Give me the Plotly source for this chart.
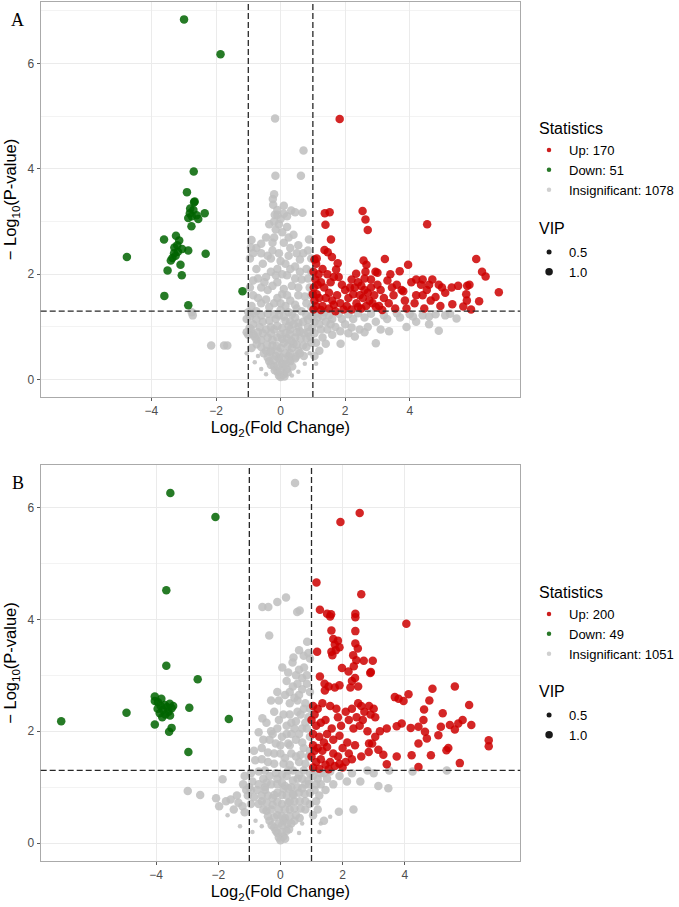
import math
import plotly.graph_objects as go

# ---------------- data ----------------
# Panel A
A_up = [
    [1.83,4.95],[1.37,3.16],[1.52,3.18],[1.39,2.94],[1.56,2.66],[1.36,2.46],[1.46,2.42],[1.59,2.33],
    [1.05,2.28],[1.10,2.20],[1.02,2.05],[1.08,1.90],[1.03,1.75],[1.12,1.62],[1.05,1.50],[1.10,1.40],
    [1.02,1.33],[1.15,1.80],[1.18,2.00],[1.12,2.30],[1.30,2.10],[1.45,2.00],[1.55,1.85],[1.35,1.75],
    [1.50,1.65],[1.40,1.55],[1.60,1.50],[1.30,1.40],[1.50,1.35],[1.65,1.42],[1.77,2.21],[1.72,2.09],
    [1.80,1.95],[1.90,1.80],[2.00,1.70],[1.75,1.60],[2.10,1.55],[1.85,1.45],[2.05,1.40],[1.95,1.33],
    [2.20,1.90],[2.15,1.75],[2.54,3.20],[2.63,3.04],[2.70,2.84],[2.57,2.26],[2.66,2.18],[2.34,2.01],
    [2.63,2.05],[2.94,2.05],[3.00,2.03],[2.40,1.85],[2.50,1.78],[2.60,1.70],[2.70,1.65],[2.80,1.75],
    [2.90,1.60],[2.45,1.60],[2.55,1.55],[2.75,1.50],[2.85,1.45],[2.65,1.40],[2.95,1.38],[2.35,1.45],
    [2.50,1.35],[3.00,1.80],[2.80,1.90],[3.23,2.29],[3.31,1.88],[3.40,2.00],[3.10,1.70],[3.20,1.55],
    [3.35,1.45],[3.50,1.60],[3.60,1.80],[3.69,2.06],[3.75,1.70],[3.85,1.50],[3.95,2.18],[3.90,1.35],
    [3.55,1.35],[3.05,1.40],[3.15,1.32],[4.54,2.95],[4.20,1.90],[4.40,1.90],[4.05,1.85],[4.35,1.80],
    [4.53,1.70],[4.60,1.80],[4.70,1.90],[4.40,1.60],[4.20,1.60],[4.80,1.57],[4.90,1.80],[4.15,1.45],
    [4.65,1.50],[4.95,1.40],[4.45,1.35],[5.00,1.75],[5.10,1.65],[5.30,1.75],[5.50,1.78],[5.78,1.78],
    [5.85,1.80],[5.75,1.62],[5.32,1.43],[5.77,1.50],[6.06,2.29],[6.24,2.05],[6.35,1.96],[5.90,1.33],
    [6.15,1.49],[5.66,1.39],[6.76,1.66],[3.80,1.68],[2.25,1.62],[2.40,1.38],[1.25,1.85],[1.20,1.55],
    [1.25,1.32],[1.70,1.30],[2.30,1.75],[2.60,1.92],[3.45,1.75],[1.65,1.95],[1.00,1.62],[2.20,1.33],
]
A_down = [
    [-2.99,6.84],[-1.86,6.18],[-2.69,3.95],[-2.90,3.56],[-2.68,3.37],[-2.66,3.38],[-2.81,3.16],
    [-2.35,3.16],[-2.76,2.91],[-2.86,3.07],[-2.75,3.10],[-2.70,3.22],[-2.60,3.12],[-2.55,3.05],
    [-2.80,3.25],[-3.61,2.66],[-3.24,2.73],[-3.14,2.64],[-3.29,2.51],[-3.18,2.43],[-2.86,2.45],
    [-3.35,2.31],[-3.40,2.26],[-2.32,2.39],[-4.76,2.33],[-3.50,2.07],[-3.10,2.18],[-3.06,1.98],
    [-3.60,1.59],[-2.86,1.41],[-1.18,1.68],[-3.30,2.40],[-3.20,2.55],[-3.05,2.48],[-3.25,2.35],
]
A_ns = [
    [0.00,0.05],[0.10,0.10],[-0.10,0.15],[0.20,0.20],[-0.20,0.25],[0.05,0.30],[-0.35,0.35],[0.30,0.35],
    [0.45,0.40],[-0.15,0.45],[0.15,0.50],[-0.45,0.55],[0.55,0.55],[0.35,0.60],[-0.25,0.65],[0.00,0.60],
    [0.70,0.65],[-0.60,0.75],[-0.40,0.80],[-0.10,0.80],[0.20,0.78],[0.45,0.80],[0.80,0.78],[0.95,0.70],
    [-0.70,0.90],[0.60,0.92],[0.30,0.95],[0.05,0.98],[-0.30,1.00],[0.85,1.00],[-0.85,1.05],[-0.55,1.10],
    [0.70,1.10],[0.15,1.12],[-0.15,1.15],[0.45,1.18],[0.95,1.20],[-0.95,1.20],[-0.40,1.25],[0.25,1.28],
    [0.65,1.30],[-0.75,1.30],[0.00,1.32],[0.10,0.25],[-0.05,0.40],[0.25,0.45],[0.40,0.68],[-0.30,0.55],
    [0.10,0.70],[0.55,1.00],[-0.20,0.95],[0.85,0.90],[0.40,1.05],[-0.45,0.95],[0.15,0.88],[-0.05,1.22],
    [-0.05,0.08],[0.12,0.06],[-0.18,0.18],[0.00,0.17],[0.22,0.14],[-0.30,0.28],[-0.08,0.27],[0.15,0.30],
    [0.36,0.25],[-0.40,0.42],[-0.20,0.38],[0.02,0.42],[0.25,0.38],[0.48,0.44],[-0.52,0.50],[-0.30,0.52],
    [-0.08,0.54],[0.30,0.50],[0.60,0.50],[0.72,0.45],[-0.60,0.62],[-0.42,0.66],[-0.12,0.64],[0.22,0.64],
    [0.50,0.66],[0.80,0.62],[-0.75,0.76],[-0.25,0.75],[0.05,0.77],[0.33,0.74],[0.62,0.78],[0.92,0.82],
    [-0.85,0.86],[-0.55,0.88],[-0.30,0.88],[0.00,0.86],[0.28,0.86],[0.50,0.90],[0.72,0.88],[-0.65,1.00],
    [-0.10,1.02],[0.25,1.02],[0.98,0.98],[-0.92,0.95],[-0.75,1.14],[-0.35,1.12],[0.30,1.10],[0.55,1.08],
    [0.85,1.14],[-0.60,1.22],[-0.20,1.24],[0.10,1.20],[0.35,1.24],[0.80,1.22],[-0.85,1.26],
    [-0.60,1.45],[-0.20,1.45],[0.30,1.50],[0.80,1.45],[0.55,1.60],[-0.85,1.60],[0.05,1.62],[-0.40,1.70],
    [0.90,1.75],[0.35,1.78],[-0.10,1.85],[0.65,1.90],[-0.70,1.92],[0.20,1.98],[-0.30,2.05],[0.80,2.10],
    [0.45,2.15],[-0.55,2.20],[0.00,2.25],[-0.95,2.30],[0.25,2.35],[0.70,2.40],[-0.25,2.45],[-0.75,2.50],
    [0.55,2.55],[0.10,2.60],[-0.90,2.65],[-0.45,2.70],[0.40,2.75],[-0.60,2.58],[0.95,2.30],[-0.15,2.85],
    [0.20,2.90],[-0.35,2.95],[0.60,2.28],[0.88,2.66],[-0.92,2.51],[-0.10,2.10],[0.15,1.40],[-0.45,1.95],
    [0.50,1.35],[-0.90,1.40],[-0.35,1.38],[0.00,1.45],[0.45,1.42],[0.95,1.38],[-0.70,1.55],[-0.45,1.52],
    [-0.10,1.55],[0.20,1.60],[0.75,1.58],[-0.95,1.75],[-0.60,1.75],[0.10,1.72],[0.55,1.75],[0.95,1.60],
    [-0.25,1.78],[-0.85,1.88],[-0.50,1.85],[0.45,1.92],[0.85,1.92],[-0.15,1.98],[0.60,2.05],[-0.75,2.10],
    [0.30,2.10],[0.95,2.05],[-0.40,2.35],[0.15,2.20],[-0.60,2.40],[0.85,2.45],[-0.85,2.40],[0.50,2.40],
    [-0.05,2.40],[0.05,2.80],[-0.20,2.70],[0.25,2.70],[-0.25,2.60],
    [-0.20,3.00],[0.00,3.05],[0.33,3.21],[0.45,3.18],[0.68,3.17],[-0.18,3.13],[-0.10,3.13],
    [-0.24,3.43],[-0.23,3.32],[-0.20,3.52],[-0.16,3.87],[0.63,3.87],[0.71,4.35],[-0.17,4.96],[0.10,3.30],
    [0.20,3.10],[-0.05,2.95],[0.30,2.50],[-0.30,2.30],[0.05,2.00],[-0.10,3.22],[0.10,3.15],
    [1.10,1.25],[1.30,1.20],[1.50,1.22],[1.80,1.25],[2.10,1.24],[2.40,1.26],[2.80,1.25],[3.20,1.22],
    [3.60,1.26],[4.00,1.24],[4.40,1.22],[4.80,1.24],[5.10,1.22],[5.45,1.16],[1.20,1.05],[1.45,0.95],
    [1.70,1.00],[2.00,1.05],[2.20,0.99],[2.45,0.95],[2.60,0.90],[2.30,0.82],[1.60,0.85],[1.30,0.80],
    [1.10,0.70],[1.86,0.68],[2.95,0.69],[3.36,0.92],[4.90,0.93],[4.60,1.05],[3.90,1.00],[4.20,1.10],
    [1.05,0.45],[1.20,0.55],[1.05,1.10],[1.40,1.10],[1.15,1.18],[1.35,1.28],[1.60,1.15],[1.90,1.15],
    [2.25,1.15],[2.60,1.18],[2.95,1.10],[3.30,1.15],[3.70,1.18],[4.10,1.20],[4.60,1.20],[5.25,1.25],
    [1.25,0.95],[1.55,1.05],[1.85,0.92],[2.10,0.88],[2.70,1.00],[3.10,0.95],[1.40,0.68],[1.05,0.88],
    [-2.15,0.65],[-1.75,0.65],[-1.65,0.65],[-2.75,1.28],[-2.72,1.22],[-0.96,0.98],[-1.05,1.15],
    [-0.81,0.82],[-0.74,0.67],[-1.00,0.85],[-0.90,0.60],[-1.00,1.28],[-1.05,0.90],
]
A_ns_small = [
    [-0.80,0.33],[-0.60,0.20],[0.55,0.15],[0.75,0.30],[-0.45,0.10],[-0.70,0.45],[0.90,0.50],
    [1.10,0.30],[-1.05,0.50],[0.35,0.08],
]

# Panel B
B_up = [
    [2.55,5.90],[1.93,5.74],[1.16,4.66],[2.60,4.45],[4.05,3.92],[1.27,4.17],[1.50,4.10],[1.63,4.09],
    [1.60,4.05],[2.41,4.04],[2.41,4.10],[1.64,3.80],[2.41,3.79],[1.70,3.65],[1.85,3.62],[1.75,3.55],
    [1.90,3.50],[1.78,3.45],[1.18,3.42],[1.64,3.42],[1.67,3.36],[2.41,3.57],[2.49,3.48],[2.34,3.36],
    [2.44,3.27],[2.68,3.26],[2.97,3.26],[1.98,3.13],[2.19,3.07],[2.36,3.16],[2.91,3.06],[1.27,2.98],
    [1.42,2.85],[1.55,2.80],[1.43,2.73],[1.75,2.78],[1.90,2.82],[2.25,2.78],[2.30,2.90],[2.40,2.95],
    [2.50,2.80],[2.89,3.04],[4.12,2.66],[4.89,2.76],[5.61,2.80],[4.79,2.55],[3.68,2.61],[3.80,2.58],
    [3.96,2.54],[4.62,2.39],[5.22,2.32],[6.07,2.47],
    [1.05,2.45],[1.10,2.30],[1.20,2.40],[1.35,2.50],[1.60,2.45],[1.80,2.40],[1.00,2.20],[1.15,2.10],
    [1.30,2.15],[1.45,2.20],[1.65,2.05],[1.85,2.25],[1.95,2.10],[1.05,1.95],[1.25,1.90],[1.50,1.95],
    [1.70,1.85],[1.90,1.92],
    [2.10,2.35],[2.30,2.40],[2.50,2.50],[2.60,2.45],[2.70,2.35],[2.85,2.45],[3.00,2.40],[2.20,2.20],
    [2.45,2.25],[2.65,2.20],[2.90,2.30],[3.05,2.25],[2.35,2.05],[2.55,2.10],[2.80,2.00],
    [3.42,2.05],[3.74,2.09],[3.90,2.14],[4.19,2.06],[4.44,2.08],[4.60,2.20],[4.65,1.99],[4.71,1.87],
    [5.08,1.93],[5.16,2.08],[5.45,2.11],[5.61,2.03],[5.72,2.14],[5.86,2.20],[6.14,2.11],[3.20,2.00],
    [1.05,1.75],[1.20,1.70],[1.35,1.65],[1.50,1.72],[1.70,1.60],[1.85,1.55],[1.00,1.55],[1.15,1.45],
    [1.30,1.50],[1.45,1.40],[1.60,1.45],[1.75,1.38],[1.90,1.42],[1.05,1.35],[1.25,1.33],[1.55,1.32],
    [2.00,1.35],[2.00,1.70],[2.20,1.60],[2.15,1.80],[2.40,1.75],[2.30,1.50],
    [2.85,1.78],[2.95,1.78],[3.05,1.90],[3.15,1.67],[3.31,1.58],[2.84,1.63],[3.74,1.55],[4.22,1.57],
    [4.84,1.57],[4.44,1.78],[5.34,1.66],[3.42,1.41],[4.44,1.36],[5.77,1.43],[6.70,1.84],[6.70,1.73],
    [5.40,1.70],[2.60,1.55],[2.10,1.45],[1.40,1.80],[1.10,1.65],
]
B_down = [
    [-3.54,6.26],[-2.09,5.83],[-3.67,4.52],[-3.67,3.17],[-2.66,2.93],[-7.05,2.18],[-4.95,2.33],
    [-4.04,2.62],[-3.83,2.58],[-3.94,2.52],[-3.72,2.47],[-3.56,2.49],[-3.50,2.41],[-3.78,2.38],
    [-3.88,2.32],[-4.04,2.54],[-3.60,2.35],[-3.45,2.45],[-3.65,2.43],[-3.85,2.45],[-3.70,2.30],
    [-3.95,2.40],[-2.93,2.42],[-1.66,2.22],[-4.04,2.12],[-3.50,2.06],[-3.58,1.99],[-2.96,1.63],
    [-3.80,2.25],[-3.55,2.28],
]
B_ns = [
    [0.00,0.05],[0.10,0.12],[-0.10,0.18],[0.20,0.22],[-0.20,0.28],[0.05,0.32],[0.35,0.35],[-0.35,0.40],
    [0.15,0.45],[-0.10,0.50],[0.50,0.50],[-0.45,0.58],[0.30,0.60],[0.65,0.62],[-0.25,0.68],[0.05,0.70],
    [-0.60,0.75],[0.45,0.75],[0.80,0.75],[-0.40,0.85],[0.20,0.85],[-0.10,0.90],[0.60,0.90],[0.95,0.90],
    [-0.75,0.95],[0.35,1.00],[-0.30,1.05],[0.80,1.05],[0.05,1.08],[-0.90,1.10],[-0.55,1.15],[0.55,1.15],
    [0.20,1.20],[-0.15,1.25],[0.95,1.25],[-0.70,1.28],[0.40,1.30],[0.75,1.30],[0.10,0.40],[-0.05,0.60],
    [0.25,0.72],[-0.25,0.80],[0.40,0.88],[0.70,0.98],[-0.50,1.00],[0.15,1.02],[-0.10,1.15],[0.60,1.22],
    [-0.05,0.10],[0.15,0.08],[-0.15,0.22],[0.05,0.20],[0.28,0.25],[-0.28,0.32],[-0.05,0.35],[0.22,0.35],
    [0.45,0.40],[-0.40,0.48],[-0.20,0.46],[0.05,0.48],[0.30,0.48],[0.62,0.45],[-0.55,0.60],[-0.30,0.60],
    [0.15,0.60],[0.45,0.62],[0.80,0.60],[-0.70,0.70],[-0.45,0.72],[-0.10,0.74],[0.30,0.74],[0.62,0.75],
    [0.95,0.70],[-0.85,0.82],[-0.60,0.85],[-0.20,0.86],[0.05,0.86],[0.42,0.86],[0.78,0.88],[-0.95,0.95],
    [-0.50,0.95],[0.10,0.97],[0.25,0.98],[0.55,1.00],[0.92,1.05],[-0.70,1.05],[-0.45,1.08],[-0.10,1.05],
    [0.40,1.12],[0.70,1.15],[-0.35,1.20],[0.05,1.22],[-0.95,1.25],[-0.50,1.30],[0.25,1.30],[0.90,1.12],
    [-0.40,1.45],[0.10,1.42],[0.60,1.45],[-0.81,1.48],[0.90,1.55],[-0.20,1.60],[0.35,1.60],[-0.60,1.70],
    [0.75,1.70],[0.00,1.75],[-0.35,1.85],[0.50,1.85],[0.95,1.90],[0.20,1.95],[-0.70,1.98],[-0.10,2.05],
    [0.70,2.05],[0.35,2.15],[-0.45,2.15],[-0.58,2.23],[0.90,2.25],[0.10,2.30],[0.55,2.35],[-0.20,2.35],
    [0.30,2.50],[0.80,2.50],[-0.05,2.55],[0.60,2.65],[0.95,2.70],[0.40,2.80],[0.20,2.90],[0.70,2.95],
    [0.25,1.78],[0.65,1.58],[-0.25,1.95],[0.45,2.05],[0.15,2.65],[0.55,2.55],[0.85,2.85],[-0.30,2.55],
    [-0.20,1.42],[0.30,1.40],[0.80,1.42],[-0.60,1.50],[0.15,1.52],[0.50,1.55],[0.95,1.65],[-0.40,1.62],
    [0.00,1.60],[0.70,1.80],[0.30,1.75],[-0.15,1.78],[0.60,1.95],[0.85,2.05],[0.35,1.95],[0.05,1.90],
    [0.80,2.15],[0.50,2.18],[0.20,2.10],[0.65,2.30],[0.95,2.40],[0.30,2.30],[0.75,2.40],[0.45,2.60],
    [0.70,2.75],[0.55,2.85],[0.30,2.70],[0.85,3.00],[0.60,3.10],[0.25,3.05],[0.75,3.35],[-0.10,2.70],
    [-0.05,2.20],[-0.55,1.85],[-0.85,1.65],[-0.30,2.00],[0.60,3.45],
    [0.06,3.14],[0.42,3.32],[0.39,3.23],[0.76,3.14],[0.86,3.60],[0.50,3.00],[-0.36,3.71],[-0.58,4.22],
    [-0.39,4.22],[-0.10,4.31],[0.18,4.39],[0.54,4.13],[0.62,4.16],[0.47,6.44],[0.95,3.30],[0.90,3.40],
    [-2.98,0.93],[-2.58,0.86],[-2.07,0.80],[-1.97,0.66],[-1.75,0.75],[-1.60,0.78],[-1.50,0.60],
    [-1.35,0.72],[-1.22,0.66],[-1.86,1.14],[-1.05,0.85],[-1.00,1.00],[-0.95,0.70],[-1.15,1.20],
    [-1.10,0.95],[-1.20,1.05],[-1.15,0.55],[-1.40,0.85],
    [2.14,1.10],[2.57,1.10],[3.15,1.02],[3.47,0.98],[3.00,1.25],[3.50,1.30],[4.25,1.28],[5.35,1.30],
    [1.20,1.15],[1.10,0.95],[1.40,1.25],[1.60,1.28],[1.30,1.05],[1.88,0.56],[2.35,0.60],[1.15,0.75],
    [1.05,0.50],[1.05,1.20],[1.10,1.30],[1.30,1.25],[1.50,1.15],[1.25,0.85],[1.45,0.95],[1.70,1.05],
    [1.20,0.60],[1.40,0.40],[1.90,1.20],[2.30,1.25],[2.80,1.30],[1.15,1.05],
]
B_ns_small = [
    [1.60,0.47],[-0.80,0.40],[-0.60,0.30],[0.70,0.35],[-1.30,0.30],[1.25,0.20],[-0.90,0.20],
    [-1.70,0.50],[0.60,0.18],[1.30,0.35],
]

up_counts = [170, 200]
down_counts = [51, 49]
ns_counts = [1078, 1051]
panel_labels = ["A", "B"]
x_tickvals = [-4, -2, 0, 2, 4]
vip_levels = [0.5, 1.0]
FC_CUT = 1.0
P_CUT = 0.05

# ---------------- styling ----------------
RED = "rgba(205,0,0,0.85)"
GREEN = "rgba(0,100,0,0.85)"
GRAY = "rgba(190,190,190,0.85)"
FONT = "Liberation Sans, Arial, sans-serif"
SIZE_BIG = 8.5
SIZE_SMALL = 4.5

fig = go.Figure()

panels = [
    dict(up=A_up, down=A_down, ns=A_ns, ns_small=A_ns_small, xr=[-7.43, 7.42], yr=[-0.33, 7.17],
         dom=[1 - 397 / 907, 1 - 2 / 907], xa="x", ya="y",
         title_y=[128, 228], leg_top=[135, 237], label_y=20),
    dict(up=B_up, down=B_down, ns=B_ns, ns_small=B_ns_small, xr=[-7.71, 7.71], yr=[-0.32, 6.76],
         dom=[1 - 861 / 907, 1 - 465 / 907], xa="x2", ya="y2",
         title_y=[592, 691], leg_top=[599, 700], label_y=483),
]

def xs(pts):
    return [p[0] for p in pts]

def ys(pts):
    return [p[1] for p in pts]

LEG_X = 533 / 679
TITLE_X = 541 / 679
legend_common = dict(xanchor="left", yanchor="top", itemsizing="trace", bgcolor="rgba(0,0,0,0)",
                     font=dict(family=FONT, size=13, color="black"), itemwidth=30, tracegroupgap=0,
                     x=LEG_X)
legend_layout = {}

for i, P in enumerate(panels):
    common = dict(mode="markers", xaxis=P["xa"], yaxis=P["ya"], showlegend=False, hoverinfo="skip")
    fig.add_trace(go.Scatter(x=xs(P["ns"]), y=ys(P["ns"]), marker=dict(color=GRAY, size=SIZE_BIG, line_width=0), **common))
    fig.add_trace(go.Scatter(x=xs(P["ns_small"]), y=ys(P["ns_small"]), marker=dict(color=GRAY, size=SIZE_SMALL, line_width=0), **common))
    fig.add_trace(go.Scatter(x=xs(P["down"]), y=ys(P["down"]), marker=dict(color=GREEN, size=SIZE_BIG, line_width=0), **common))
    fig.add_trace(go.Scatter(x=xs(P["up"]), y=ys(P["up"]), marker=dict(color=RED, size=SIZE_BIG, line_width=0), **common))

    lg1 = "legend" if i == 0 else "legend3"
    lg2 = "legend2" if i == 0 else "legend4"
    for name, col in [(f"Up: {up_counts[i]}", "rgb(205,30,30)"),
                      (f"Down: {down_counts[i]}", "rgb(40,120,40)"),
                      (f"Insignificant: {ns_counts[i]}", "rgb(208,208,208)")]:
        fig.add_trace(go.Scatter(x=[None], y=[None], mode="markers", name=name, legend=lg1,
                                 marker=dict(color=col, size=4.5, line_width=0),
                                 xaxis=P["xa"], yaxis=P["ya"]))
    for v, s in zip(vip_levels, [5, 7.5]):
        fig.add_trace(go.Scatter(x=[None], y=[None], mode="markers", name=f"{v:.1f}", legend=lg2,
                                 marker=dict(color="rgb(25,25,25)", size=s, line_width=0),
                                 xaxis=P["xa"], yaxis=P["ya"]))
    legend_layout[lg1] = dict(legend_common, y=1 - P["leg_top"][0] / 907)
    legend_layout[lg2] = dict(legend_common, y=1 - P["leg_top"][1] / 907)

    for t, ty in zip(["Statistics", "VIP"], P["title_y"]):
        fig.add_annotation(text=t, xref="paper", yref="paper", x=TITLE_X, y=1 - ty / 907,
                           xanchor="left", yanchor="middle", showarrow=False,
                           font=dict(family=FONT, size=16, color="black"))

    axis_common = dict(showline=True, mirror=True, linecolor="rgb(170,170,170)", linewidth=1,
                       gridcolor="rgb(235,235,235)", gridwidth=1, zeroline=False,
                       ticks="outside", ticklen=3, tickcolor="rgb(90,90,90)",
                       tickfont=dict(family=FONT, size=12, color="rgb(77,77,77)"))
    xname = "xaxis" if i == 0 else "xaxis2"
    yname = "yaxis" if i == 0 else "yaxis2"
    fig.update_layout(**{
        xname: dict(axis_common, domain=[41 / 679, 524 / 679], range=P["xr"], tickvals=x_tickvals,
                    anchor=P["ya"],
                    title=dict(text="Log<sub>2</sub>(Fold Change)", font=dict(family=FONT, size=16.5, color="black"),
                               standoff=4)),
        yname: dict(axis_common, domain=P["dom"], range=P["yr"], dtick=2, tick0=0, anchor=P["xa"],
                    minor=dict(dtick=1, tick0=0, showgrid=True, gridcolor="rgb(243,243,243)", gridwidth=0.6),
                    title=dict(text="\u2212 Log<sub>10</sub>(P-value)", font=dict(family=FONT, size=16.5, color="black"),
                               standoff=6)),
    })

    # threshold lines
    pline = -math.log10(P_CUT)
    dash = dict(color="rgb(40,40,40)", width=1.3, dash="6px,3px")
    for xv in (-FC_CUT, FC_CUT):
        fig.add_shape(type="line", xref=P["xa"], yref=f"{P['ya']} domain", x0=xv, x1=xv, y0=0, y1=1, line=dash)
    fig.add_shape(type="line", xref=f"{P['xa']} domain", yref=P["ya"], x0=0, x1=1, y0=pline, y1=pline, line=dash)

    # panel label
    fig.add_annotation(text=panel_labels[i], xref="paper", yref="paper",
                       x=18 / 679, y=1 - P["label_y"] / 907, xanchor="center", yanchor="middle",
                       showarrow=False, font=dict(family="Liberation Serif, Times New Roman, serif", size=18, color="black"))

fig.update_layout(**legend_layout)
fig.update_layout(width=679, height=907, margin=dict(l=0, r=0, t=0, b=0),
                  paper_bgcolor="white", plot_bgcolor="white")

fig.write_html("out.html")
